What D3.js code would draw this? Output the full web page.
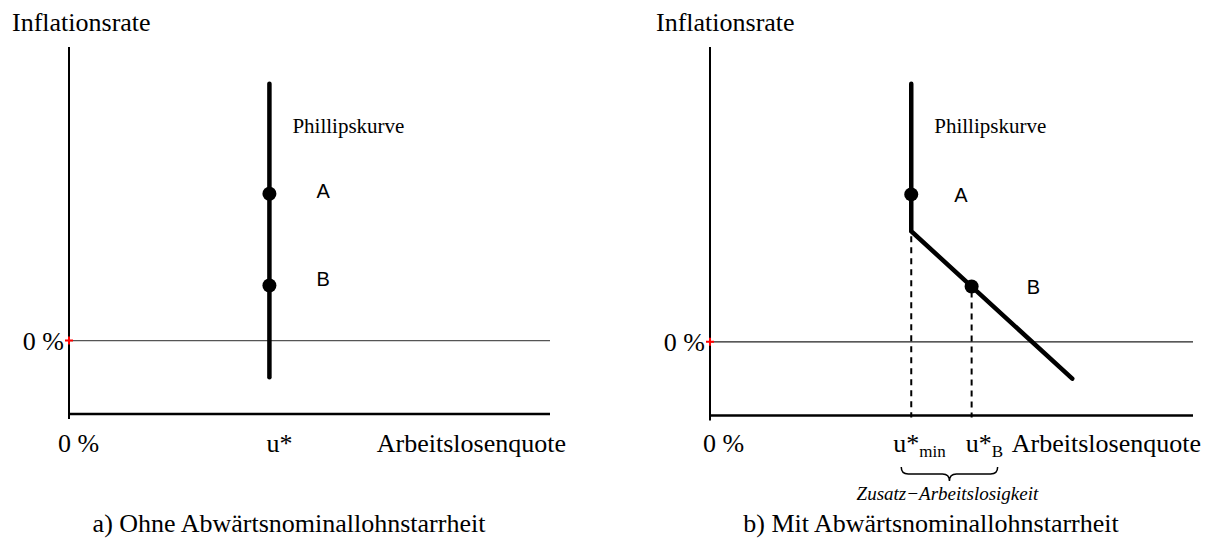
<!DOCTYPE html>
<html>
<head>
<meta charset="utf-8">
<script src="https://cdn.jsdelivr.net/npm/d3@7"></script>
<style>
  body { margin: 0; background: #fff; }
  svg { display: block; }
  .serif { font-family: "Liberation Serif", "Times New Roman", serif; fill: #000; }
  .sans { font-family: "Liberation Sans", Arial, sans-serif; fill: #000; }
</style>
</head>
<body>
<div id="chart"></div>
<script>
// values (arbitrary units: u = unemployment, pi = inflation)
var yTitle = "Inflationsrate";
var xTitle = "Arbeitslosenquote";
var curveLabel = "Phillipskurve";

var ticksA = [{u: 0, t: "0 %", sub: ""}, {u: 5, t: "u*", sub: ""}];
var ticksB = [{u: 0, t: "0 %", sub: ""}, {u: 5, t: "u*", sub: "min"}, {u: 6.5, t: "u*", sub: "B"}];

var curveA = [{u: 5, pi: 7}, {u: 5, pi: -1}];
var curveB = [{u: 5, pi: 7}, {u: 5, pi: 3}, {u: 9, pi: -1}];

var pointsA = [{name: "A", u: 5, pi: 4}, {name: "B", u: 5, pi: 1.5}];
var pointsB = [{name: "A", u: 5, pi: 4}, {name: "B", u: 6.5, pi: 1.5}];

var dropsB = [{u: 5, pi: 3}, {u: 6.5, pi: 1.5}];   // dashed guides down to the u axis
var extraRange = [5, 6.5];                         // brace under u*min .. u*B
var extraLabel = "Zusatz\u2212Arbeitslosigkeit";

var captions = ["a) Ohne Abwärtsnominallohnstarrheit", "b) Mit Abwärtsnominallohnstarrheit"];

var W = 1213, H = 545;

var svg = d3.select("#chart").append("svg")
    .attr("width", W)
    .attr("height", H);

var panels = [
  {x0: 69, x1: 550, yBot: 414, yTop: 47, ticks: ticksA, curve: curveA, points: pointsA, drops: [],
   labelOff: [[47, 4], [47, 0]], caption: captions[0], capX: 289, tickOff: [-11, -3], titleX: 12, xtEnd: 566},
  {x0: 710, x1: 1193, yBot: 415.5, yTop: 47, ticks: ticksB, curve: curveB, points: pointsB, drops: dropsB,
   labelOff: [[43, 8], [55, 7]], caption: captions[1], capX: 931, tickOff: [-7, -18, -6], titleX: 656, xtEnd: 1201}
];

panels.forEach(function(p, pi) {
  var x = d3.scaleLinear().domain([0, 12]).range([p.x0, p.x1]);
  var y = d3.scaleLinear().domain([-2, 8]).range([p.yBot, p.yTop]);
  var g = svg.append("g");

  // y title
  g.append("text").attr("class", "serif")
      .attr("x", p.titleX).attr("y", 31)
      .style("font-size", "26px")
      .text(yTitle);

  // zero inflation line
  g.append("line")
      .attr("x1", x(0)).attr("x2", x(12))
      .attr("y1", y(0)).attr("y2", y(0))
      .attr("stroke", pi == 0 ? "#555" : "#222").attr("stroke-width", 1.2);

  // axes
  g.append("line")
      .attr("x1", x(0)).attr("x2", x(0))
      .attr("y1", y(8)).attr("y2", y(-2) + 5)
      .attr("stroke", "#000").attr("stroke-width", 2);
  g.append("line")
      .attr("x1", x(0)).attr("x2", x(12))
      .attr("y1", y(-2)).attr("y2", y(-2))
      .attr("stroke", "#000").attr("stroke-width", 2.5);

  // red marker at origin of zero line
  g.append("path")
      .attr("d", "M" + (x(0) - 4) + "," + y(0) + "h8M" + x(0) + "," + (y(0) - 4) + "v8")
      .attr("stroke", "red").attr("stroke-width", 2);

  g.append("text").attr("class", "serif")
      .attr("x", x(0) - 5).attr("y", y(0) + 9)
      .attr("text-anchor", "end")
      .style("font-size", "26px")
      .text("0 %");

  // dashed guides
  g.selectAll(".drop").data(p.drops).enter().append("line")
      .attr("x1", function(d) { return x(d.u); })
      .attr("x2", function(d) { return x(d.u); })
      .attr("y1", function(d) { return y(d.pi) + 5; })
      .attr("y2", y(-2) + 2)
      .attr("stroke", "#000").attr("stroke-width", 2)
      .attr("stroke-dasharray", "6,5");

  // phillips curve
  var line = d3.line().x(function(d) { return x(d.u); }).y(function(d) { return y(d.pi); });
  g.append("path")
      .datum(p.curve)
      .attr("d", line)
      .attr("fill", "none")
      .attr("stroke", "#000").attr("stroke-width", 4.5)
      .attr("stroke-linecap", "round").attr("stroke-linejoin", "miter");

  g.append("text").attr("class", "serif")
      .attr("x", x(p.curve[0].u) + 23).attr("y", y(5.66))
      .style("font-size", "21px")
      .text(curveLabel);

  g.selectAll(".pt").data(p.points).enter().append("circle")
      .attr("cx", function(d) { return x(d.u); })
      .attr("cy", function(d) { return y(d.pi); })
      .attr("r", 7).attr("fill", "#000");

  g.selectAll(".ptl").data(p.points).enter().append("text")
      .attr("class", "sans")
      .attr("x", function(d, i) { return x(d.u) + p.labelOff[i][0]; })
      .attr("y", function(d, i) { return y(d.pi) + p.labelOff[i][1]; })
      .style("font-size", "20px")
      .text(function(d) { return d.name; });

  // x tick labels
  var tl = g.selectAll(".tick").data(p.ticks).enter().append("text")
      .attr("class", "serif")
      .attr("x", function(d, i) { return x(d.u) + p.tickOff[i]; })
      .attr("y", 452)
      .style("font-size", "26px");
  tl.append("tspan").text(function(d) { return d.t; });
  tl.append("tspan")
      .attr("dy", 5)
      .style("font-size", "17px")
      .text(function(d) { return d.sub; });

  g.append("text").attr("class", "serif")
      .attr("x", p.xtEnd).attr("y", 452)
      .attr("text-anchor", "end")
      .style("font-size", "26px")
      .text(xTitle);

  if (pi == 1) {
    // brace under the extra unemployment range
    var bx1 = x(extraRange[0]) - 10, bx2 = x(extraRange[1]) + 26, by = 467, d = 14;
    var mid = (bx1 + bx2) / 2;
    var q = d / 2;
    var path = "M" + bx1 + "," + by +
      "Q" + bx1 + "," + (by + q) + " " + (bx1 + q) + "," + (by + q) +
      "L" + (mid - q) + "," + (by + q) +
      "Q" + mid + "," + (by + q) + " " + mid + "," + (by + d) +
      "Q" + mid + "," + (by + q) + " " + (mid + q) + "," + (by + q) +
      "L" + (bx2 - q) + "," + (by + q) +
      "Q" + bx2 + "," + (by + q) + " " + bx2 + "," + by;
    g.append("path").attr("d", path)
        .attr("fill", "none").attr("stroke", "#000").attr("stroke-width", 1.5);
    g.append("text").attr("class", "serif")
        .attr("x", mid - 2).attr("y", 500)
        .attr("text-anchor", "middle")
        .style("font-size", "19px").style("font-style", "italic")
        .text(extraLabel);
  }

  g.append("text").attr("class", "serif")
      .attr("x", p.capX).attr("y", 532)
      .attr("text-anchor", "middle")
      .style("font-size", "26px")
      .text(p.caption);
});
</script>
</body>
</html>
